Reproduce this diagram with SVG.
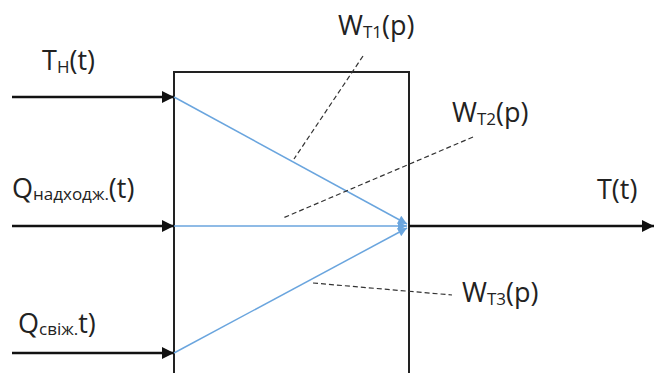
<svg xmlns="http://www.w3.org/2000/svg" width="654" height="373" viewBox="0 0 654 373">
<style>
.t{font-family:"Open Sans","Liberation Sans",sans-serif;font-size:27px;fill:#222}
.s{font-size:17px}
.blk{stroke:#111;stroke-width:2.5;fill:none}
.blu{stroke:#6aa5de;stroke-width:1.5;fill:none}
.dash{stroke:#333;stroke-width:1.2;stroke-dasharray:5 3;fill:none}
</style>
<defs>
<marker id="abig" viewBox="0 0 10 10" refX="10" refY="5" markerWidth="14" markerHeight="12" markerUnits="userSpaceOnUse" orient="auto"><path d="M0,0L10,5L0,10z" fill="#111"/></marker>
<marker id="bl" viewBox="0 0 10 10" refX="10" refY="5" markerWidth="10" markerHeight="9" markerUnits="userSpaceOnUse" orient="auto"><path d="M0,0L10,5L0,10z" fill="#6aa5de"/></marker>
</defs>
<g id="block"><rect x="174" y="72" width="235" height="320" fill="#ffffff" stroke="#222" stroke-width="2"/></g>
<g id="connectors">
<line class="blk" x1="12" y1="97" x2="174" y2="97" marker-end="url(#abig)"/>
<line class="blk" x1="12" y1="226" x2="174" y2="226" marker-end="url(#abig)"/>
<line class="blk" x1="12" y1="353" x2="174" y2="353" marker-end="url(#abig)"/>
<line class="blk" x1="409" y1="226" x2="654" y2="226" marker-end="url(#abig)"/>
<line class="blu" x1="174" y1="97" x2="407" y2="224" marker-end="url(#bl)"/>
<line class="blu" x1="174" y1="226" x2="407" y2="226" marker-end="url(#bl)"/>
<line class="blu" x1="174" y1="353" x2="407" y2="228" marker-end="url(#bl)"/>
<line class="dash" x1="363" y1="56" x2="294" y2="159"/>
<line class="dash" x1="473" y1="137" x2="283" y2="218"/>
<line class="dash" x1="313" y1="283" x2="452" y2="295"/>
</g>
<g id="labels">
<text class="t" x="42" y="70">T<tspan class="s" dy="3">H</tspan><tspan dy="-3">(t)</tspan></text>
<text class="t" x="12" y="198">Q<tspan class="s" dy="2">надходж.</tspan><tspan dy="-2">(t)</tspan></text>
<text class="t" x="18" y="333">Q<tspan class="s" dy="2">свіж.</tspan><tspan dy="-2">t)</tspan></text>
<text class="t" x="338" y="35">W<tspan class="s" dy="3">T1</tspan><tspan dy="-3">(p)</tspan></text>
<text class="t" x="452" y="122">W<tspan class="s" dy="3">T2</tspan><tspan dy="-3">(p)</tspan></text>
<text class="t" x="597" y="199">T(t)</text>
<text class="t" x="462" y="302">W<tspan class="s" dy="3">T3</tspan><tspan dy="-3">(p)</tspan></text>
</g>
</svg>
